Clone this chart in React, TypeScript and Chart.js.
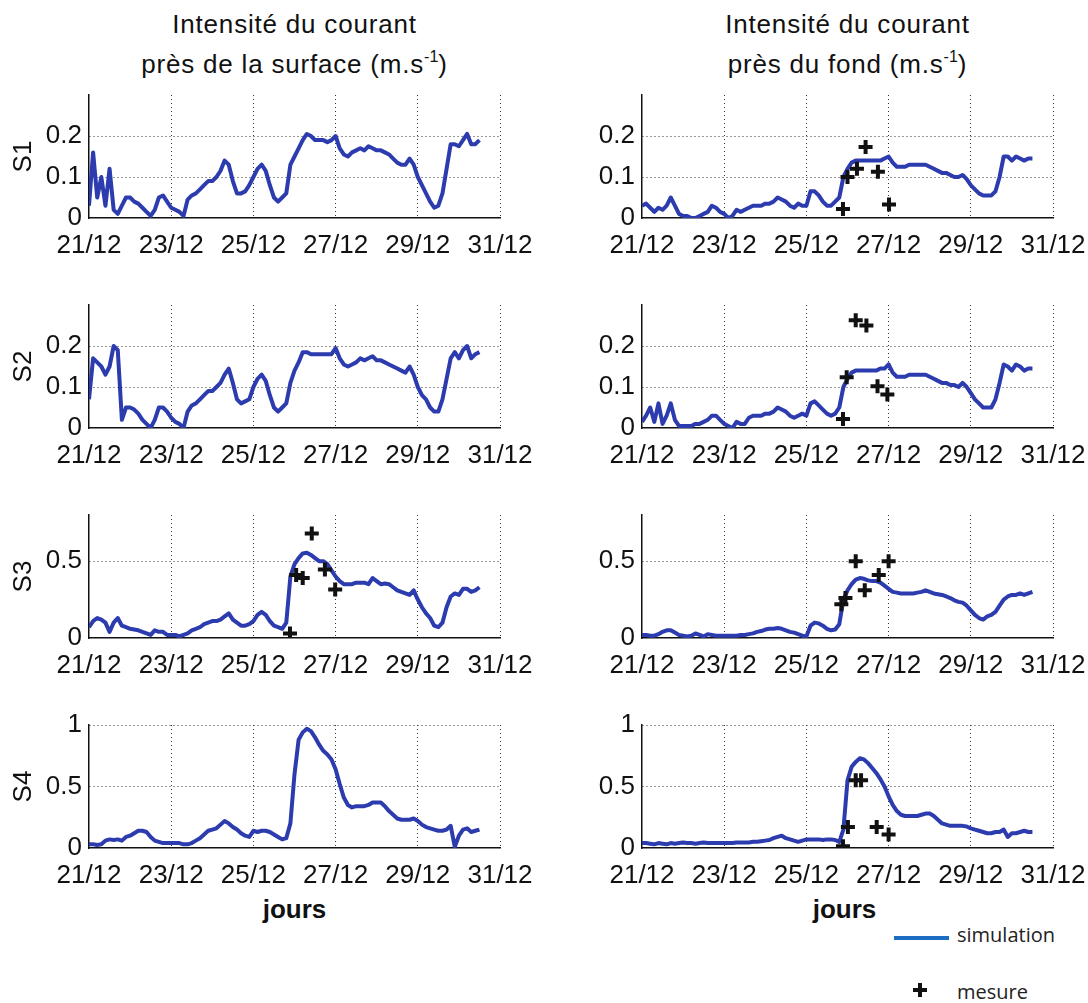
import React, { useEffect, useRef } from 'react';
import { Chart, registerables } from 'chart.js';

Chart.register(...registerables);
Chart.defaults.font.family = '"Liberation Sans", Arial, Helvetica, sans-serif';

// sampling times (days of December), every 0.1 day from 21.0 to 30.5
const TIMES: number[] = Array.from({ length: 96 }, (_, i) => Math.round((21 + i * 0.1) * 10) / 10);
const DAY_TICKS = [21, 23, 25, 27, 29, 31];

// ---- simulated current intensity near the surface (m/s)
const S1_SURF = [
  0.03, 0.16, 0.05, 0.10, 0.03, 0.12, 0.02, 0.01, 0.03, 0.05,
  0.05, 0.04, 0.035, 0.025, 0.015, 0.005, 0.02, 0.05, 0.055, 0.04,
  0.025, 0.02, 0.015, 0.005, 0.045, 0.055, 0.06, 0.07, 0.08, 0.09,
  0.09, 0.10, 0.115, 0.14, 0.13, 0.09, 0.06, 0.06, 0.065, 0.08,
  0.10, 0.12, 0.13, 0.115, 0.08, 0.05, 0.04, 0.05, 0.06, 0.13,
  0.15, 0.17, 0.19, 0.205, 0.20, 0.19, 0.19, 0.19, 0.185, 0.19,
  0.20, 0.17, 0.155, 0.15, 0.16, 0.165, 0.17, 0.165, 0.175, 0.17,
  0.165, 0.165, 0.16, 0.155, 0.145, 0.135, 0.13, 0.13, 0.145, 0.13,
  0.10, 0.08, 0.06, 0.04, 0.025, 0.03, 0.06, 0.12, 0.18, 0.18,
  0.175, 0.19, 0.205, 0.18, 0.18, 0.19,
];
const S2_SURF = [
  0.07, 0.17, 0.16, 0.15, 0.13, 0.15, 0.20, 0.19, 0.02, 0.05,
  0.05, 0.045, 0.035, 0.02, 0.01, 0.0, 0.02, 0.05, 0.05, 0.04,
  0.025, 0.015, 0.01, 0.0, 0.04, 0.055, 0.06, 0.07, 0.08, 0.09,
  0.09, 0.10, 0.11, 0.13, 0.145, 0.11, 0.07, 0.06, 0.065, 0.07,
  0.10, 0.12, 0.13, 0.115, 0.08, 0.05, 0.04, 0.05, 0.06, 0.11,
  0.14, 0.16, 0.185, 0.185, 0.18, 0.18, 0.18, 0.18, 0.18, 0.18,
  0.195, 0.17, 0.155, 0.15, 0.155, 0.16, 0.17, 0.165, 0.17, 0.175,
  0.165, 0.165, 0.16, 0.155, 0.15, 0.145, 0.14, 0.135, 0.15, 0.13,
  0.10, 0.08, 0.07, 0.05, 0.04, 0.04, 0.07, 0.12, 0.17, 0.185,
  0.17, 0.19, 0.20, 0.17, 0.18, 0.185,
];
const S3_SURF = [
  0.07, 0.11, 0.13, 0.12, 0.10, 0.04, 0.10, 0.13, 0.08, 0.07,
  0.06, 0.055, 0.05, 0.04, 0.03, 0.02, 0.05, 0.04, 0.04, 0.02,
  0.02, 0.02, 0.01, 0.02, 0.03, 0.05, 0.06, 0.07, 0.09, 0.10,
  0.11, 0.11, 0.12, 0.14, 0.16, 0.12, 0.10, 0.08, 0.08, 0.09,
  0.11, 0.15, 0.17, 0.15, 0.11, 0.08, 0.07, 0.06, 0.10, 0.40,
  0.48, 0.52, 0.55, 0.555, 0.54, 0.52, 0.50, 0.50, 0.48, 0.44,
  0.40, 0.37, 0.35, 0.35, 0.35, 0.36, 0.36, 0.36, 0.35, 0.39,
  0.37, 0.35, 0.355, 0.35, 0.33, 0.31, 0.30, 0.29, 0.28, 0.31,
  0.25, 0.20, 0.16, 0.13, 0.08, 0.07, 0.10, 0.20, 0.27, 0.29,
  0.28, 0.32, 0.32, 0.30, 0.31, 0.33,
];
const S4_SURF = [
  0.03, 0.03, 0.025, 0.03, 0.06, 0.07, 0.065, 0.07, 0.06, 0.09,
  0.10, 0.12, 0.14, 0.14, 0.13, 0.09, 0.06, 0.05, 0.04, 0.04,
  0.04, 0.04, 0.04, 0.03, 0.03, 0.04, 0.06, 0.08, 0.11, 0.14,
  0.15, 0.16, 0.19, 0.22, 0.20, 0.17, 0.15, 0.12, 0.10, 0.09,
  0.14, 0.13, 0.14, 0.14, 0.13, 0.11, 0.09, 0.07, 0.08, 0.20,
  0.60, 0.88, 0.94, 0.97, 0.95, 0.90, 0.84, 0.79, 0.76, 0.72,
  0.64, 0.52, 0.41, 0.35, 0.33, 0.34, 0.34, 0.34, 0.35, 0.37,
  0.37, 0.37, 0.34, 0.30, 0.27, 0.24, 0.23, 0.23, 0.23, 0.24,
  0.22, 0.19, 0.17, 0.16, 0.15, 0.14, 0.14, 0.15, 0.18, 0.01,
  0.10, 0.15, 0.16, 0.13, 0.14, 0.15,
];

// ---- simulated current intensity near the bottom (m/s)
const S1_BOT = [
  0.03, 0.035, 0.025, 0.015, 0.025, 0.02, 0.03, 0.05, 0.03, 0.01,
  0.005, 0.005, 0.0, 0.0, 0.005, 0.01, 0.015, 0.03, 0.025, 0.015,
  0.01, 0.0, 0.005, 0.02, 0.015, 0.02, 0.025, 0.03, 0.03, 0.03,
  0.035, 0.035, 0.04, 0.05, 0.045, 0.04, 0.03, 0.025, 0.035, 0.03,
  0.03, 0.065, 0.065, 0.055, 0.04, 0.03, 0.03, 0.04, 0.05, 0.10,
  0.12, 0.135, 0.14, 0.14, 0.14, 0.14, 0.14, 0.14, 0.14, 0.145,
  0.15, 0.135, 0.125, 0.125, 0.125, 0.13, 0.13, 0.13, 0.13, 0.13,
  0.125, 0.12, 0.115, 0.11, 0.11, 0.105, 0.10, 0.10, 0.105, 0.095,
  0.08, 0.07, 0.06, 0.055, 0.055, 0.055, 0.065, 0.10, 0.15, 0.15,
  0.14, 0.15, 0.145, 0.14, 0.145, 0.145,
];
const S2_BOT = [
  0.015, 0.03, 0.05, 0.015, 0.06, 0.01, 0.03, 0.06, 0.02, 0.005,
  0.005, 0.005, 0.005, 0.01, 0.01, 0.015, 0.02, 0.03, 0.03, 0.02,
  0.01, 0.005, 0.0, 0.015, 0.01, 0.01, 0.025, 0.03, 0.03, 0.03,
  0.035, 0.035, 0.04, 0.05, 0.045, 0.04, 0.03, 0.025, 0.03, 0.035,
  0.03, 0.06, 0.065, 0.055, 0.045, 0.035, 0.03, 0.035, 0.05, 0.10,
  0.12, 0.135, 0.14, 0.14, 0.14, 0.14, 0.14, 0.14, 0.145, 0.145,
  0.155, 0.135, 0.125, 0.125, 0.125, 0.13, 0.13, 0.13, 0.13, 0.13,
  0.125, 0.12, 0.115, 0.11, 0.11, 0.105, 0.105, 0.10, 0.11, 0.10,
  0.085, 0.07, 0.06, 0.05, 0.05, 0.05, 0.07, 0.11, 0.155, 0.15,
  0.14, 0.155, 0.15, 0.14, 0.145, 0.145,
];
const S3_BOT = [
  0.02, 0.02, 0.015, 0.015, 0.025, 0.04, 0.05, 0.05, 0.035, 0.02,
  0.015, 0.01, 0.015, 0.03, 0.02, 0.01, 0.025, 0.02, 0.015, 0.015,
  0.015, 0.015, 0.015, 0.015, 0.02, 0.02, 0.025, 0.03, 0.04, 0.045,
  0.055, 0.06, 0.06, 0.065, 0.06, 0.05, 0.04, 0.035, 0.025, 0.015,
  0.01, 0.08, 0.10, 0.095, 0.08, 0.06, 0.05, 0.055, 0.09, 0.25,
  0.31, 0.35, 0.38, 0.39, 0.385, 0.375, 0.37, 0.37, 0.36, 0.34,
  0.32, 0.30, 0.295, 0.29, 0.29, 0.29, 0.29, 0.295, 0.30, 0.31,
  0.30, 0.29, 0.285, 0.28, 0.27, 0.26, 0.245, 0.235, 0.23, 0.21,
  0.18, 0.15, 0.13, 0.12, 0.14, 0.15, 0.17, 0.21, 0.25, 0.27,
  0.28, 0.28, 0.29, 0.28, 0.29, 0.30,
];
const S4_BOT = [
  0.04, 0.04, 0.035, 0.03, 0.04, 0.035, 0.03, 0.04, 0.035, 0.04,
  0.045, 0.04, 0.04, 0.035, 0.04, 0.045, 0.04, 0.04, 0.04, 0.04,
  0.04, 0.04, 0.04, 0.045, 0.045, 0.045, 0.045, 0.05, 0.05, 0.055,
  0.06, 0.065, 0.08, 0.09, 0.10, 0.08, 0.07, 0.06, 0.05, 0.06,
  0.07, 0.07, 0.07, 0.07, 0.065, 0.07, 0.07, 0.065, 0.05, 0.15,
  0.55, 0.66, 0.70, 0.73, 0.72, 0.69, 0.65, 0.61, 0.56, 0.50,
  0.42, 0.35, 0.30, 0.27, 0.26, 0.26, 0.26, 0.26, 0.27, 0.28,
  0.28, 0.26, 0.23, 0.20, 0.19, 0.18, 0.18, 0.18, 0.18, 0.175,
  0.16, 0.15, 0.14, 0.13, 0.12, 0.12, 0.13, 0.13, 0.15, 0.09,
  0.12, 0.12, 0.13, 0.14, 0.13, 0.13,
];

// ---- measurements (+)
const S3_SURF_MES_T = [25.89, 26.04, 26.2, 26.42, 26.74, 26.99];
const S3_SURF_MES_V = [0.03, 0.41, 0.39, 0.68, 0.445, 0.315];
const S1_BOT_MES_T = [25.89, 26.0, 26.23, 26.44, 26.74, 27.01];
const S1_BOT_MES_V = [0.022, 0.10, 0.12, 0.173, 0.113, 0.033];
const S2_BOT_MES_T = [25.89, 25.98, 26.2, 26.46, 26.73, 26.97];
const S2_BOT_MES_V = [0.022, 0.124, 0.263, 0.25, 0.102, 0.082];
const S3_BOT_MES_T = [25.85, 25.95, 26.2, 26.42, 26.76, 27.0];
const S3_BOT_MES_V = [0.22, 0.26, 0.5, 0.31, 0.41, 0.5];
const S4_BOT_MES_T = [25.89, 26.01, 26.2, 26.33, 26.71, 27.0];
const S4_BOT_MES_V = [0.015, 0.17, 0.55, 0.55, 0.17, 0.11];

const LINE_COLOR = '#2c3caf';
const TEXT = '#111';
const CANVAS_W = 548;
const PAD_TOP = 24;
const PLOT_H = 123;
const XAXIS_H = 45;
const CANVAS_H = PAD_TOP + PLOT_H + XAXIS_H;

type PanelProps = {
  left: number;
  chartTop: number;
  values: number[];
  mesT?: number[];
  mesV?: number[];
  yMax: number;
  yTicks: number[];
  yTitle?: string;
};

function Panel(p: PanelProps) {
  const ref = useRef<HTMLCanvasElement>(null);
  useEffect(() => {
    const canvas = ref.current;
    if (!canvas) return;
    const datasets: any[] = [];
    if (p.mesT && p.mesV) {
      datasets.push({
        type: 'scatter',
        data: p.mesT.map((t, i) => ({ x: t, y: p.mesV![i] })),
        pointStyle: 'cross',
        pointRadius: 7,
        pointBorderWidth: 4,
        pointBorderColor: '#111',
        pointBackgroundColor: '#111',
        borderColor: '#111',
        showLine: false,
        order: 0,
      });
    }
    datasets.push({
      type: 'line',
      data: TIMES.map((t, i) => ({ x: t, y: p.values[i] })),
      borderColor: LINE_COLOR,
      borderWidth: 4,
      pointRadius: 0,
      tension: 0,
      fill: false,
      borderJoinStyle: 'round',
      order: 1,
    });
    const tickFont = { size: 26 };
    const chart = new Chart(canvas, {
      type: 'line',
      data: { datasets },
      options: {
        responsive: false,
        maintainAspectRatio: false,
        animation: false,
        events: [],
        layout: { padding: { top: PAD_TOP, right: 48, left: 0, bottom: 0 } },
        plugins: { legend: { display: false }, tooltip: { enabled: false } },
        scales: {
          x: {
            type: 'linear',
            min: 21,
            max: 31,
            afterBuildTicks: (s: any) => {
              s.ticks = DAY_TICKS.map((v) => ({ value: v }));
            },
            afterFit: (s: any) => {
              s.height = XAXIS_H;
            },
            ticks: {
              padding: 12,
              maxRotation: 0,
              autoSkip: false,
              color: TEXT,
              font: tickFont,
              callback: (v: any) => `${v}/12`,
            },
            grid: {
              drawTicks: false,
              lineWidth: 1,
              color: (c: any) => (c.tick && c.tick.value === 21 ? 'rgba(0,0,0,0)' : '#333'),
            },
            border: { display: true, color: '#111', width: 1.5, dash: [1, 3] },
          },
          y: {
            type: 'linear',
            min: 0,
            max: p.yMax,
            afterBuildTicks: (s: any) => {
              s.ticks = p.yTicks.map((v) => ({ value: v }));
            },
            afterFit: (s: any) => {
              s.width = 89;
            },
            ticks: {
              padding: 7,
              color: TEXT,
              font: tickFont,
              callback: (v: any) => String(v),
            },
            grid: {
              drawTicks: false,
              lineWidth: 1,
              color: (c: any) => (c.tick && c.tick.value === 0 ? 'rgba(0,0,0,0)' : '#333'),
            },
            border: { display: true, color: '#111', width: 1.5, dash: [1, 3] },
            title: p.yTitle
              ? { display: true, text: p.yTitle, color: TEXT, font: { size: 26 }, padding: { top: 8, bottom: 0 } }
              : { display: false },
          },
        },
      } as any,
    });
    return () => chart.destroy();
  }, []);
  return (
    <canvas
      ref={ref}
      width={CANVAS_W}
      height={CANVAS_H}
      style={{ position: 'absolute', left: p.left, top: p.chartTop - PAD_TOP, width: CANVAS_W, height: CANVAS_H }}
    />
  );
}

const ROW_TOPS = [95, 305, 515, 725];
const LEFT_X = 0;
const RIGHT_X = 553;
const LEFT_CENTER = 294.5;
const RIGHT_CENTER = 847.5;

export default function App() {
  const titleStyle: React.CSSProperties = {
    position: 'absolute',
    transform: 'translateX(-50%)',
    whiteSpace: 'nowrap',
    fontSize: 26,
    letterSpacing: '0.8px',
    lineHeight: '30px',
    color: TEXT,
  };
  const sup: React.CSSProperties = { fontSize: 16, position: 'relative', top: -11, letterSpacing: 0 };
  const legendText: React.CSSProperties = {
    position: 'absolute',
    left: 957,
    fontFamily: '"Open Sans", "Noto Sans", sans-serif',
    fontSize: 20,
    lineHeight: '20px',
    color: '#222',
    whiteSpace: 'nowrap',
  };
  return (
    <div
      style={{
        position: 'absolute',
        left: 0,
        top: 0,
        width: 1088,
        height: 1003,
        background: '#fff',
        overflow: 'hidden',
        fontFamily: '"Liberation Sans", Arial, Helvetica, sans-serif',
      }}
    >
      <div style={{ ...titleStyle, left: LEFT_CENTER, top: 9 }}>Intensité du courant</div>
      <div style={{ ...titleStyle, left: LEFT_CENTER, top: 49 }}>
        près de la surface (m.s<span style={sup}>-1</span>)
      </div>
      <div style={{ ...titleStyle, left: RIGHT_CENTER, top: 9 }}>Intensité du courant</div>
      <div style={{ ...titleStyle, left: RIGHT_CENTER, top: 49 }}>
        près du fond (m.s<span style={sup}>-1</span>)
      </div>

      <Panel left={LEFT_X} chartTop={ROW_TOPS[0]} values={S1_SURF} yMax={0.3} yTicks={[0, 0.1, 0.2]} yTitle="S1" />
      <Panel left={LEFT_X} chartTop={ROW_TOPS[1]} values={S2_SURF} yMax={0.3} yTicks={[0, 0.1, 0.2]} yTitle="S2" />
      <Panel left={LEFT_X} chartTop={ROW_TOPS[2]} values={S3_SURF} mesT={S3_SURF_MES_T} mesV={S3_SURF_MES_V} yMax={0.8} yTicks={[0, 0.5]} yTitle="S3" />
      <Panel left={LEFT_X} chartTop={ROW_TOPS[3]} values={S4_SURF} yMax={1} yTicks={[0, 0.5, 1]} yTitle="S4" />

      <Panel left={RIGHT_X} chartTop={ROW_TOPS[0]} values={S1_BOT} mesT={S1_BOT_MES_T} mesV={S1_BOT_MES_V} yMax={0.3} yTicks={[0, 0.1, 0.2]} />
      <Panel left={RIGHT_X} chartTop={ROW_TOPS[1]} values={S2_BOT} mesT={S2_BOT_MES_T} mesV={S2_BOT_MES_V} yMax={0.3} yTicks={[0, 0.1, 0.2]} />
      <Panel left={RIGHT_X} chartTop={ROW_TOPS[2]} values={S3_BOT} mesT={S3_BOT_MES_T} mesV={S3_BOT_MES_V} yMax={0.8} yTicks={[0, 0.5]} />
      <Panel left={RIGHT_X} chartTop={ROW_TOPS[3]} values={S4_BOT} mesT={S4_BOT_MES_T} mesV={S4_BOT_MES_V} yMax={1} yTicks={[0, 0.5, 1]} />

      <div style={{ ...titleStyle, letterSpacing: 0, left: LEFT_CENTER, top: 894, fontWeight: 'bold' }}>jours</div>
      <div style={{ ...titleStyle, letterSpacing: 0, left: RIGHT_CENTER - 3, top: 894, fontWeight: 'bold' }}>jours</div>

      {/* legend */}
      <div style={{ position: 'absolute', left: 894, top: 936, width: 55, height: 4, background: '#1b6ec2' }} />
      <div style={{ ...legendText, top: 925 }}>simulation</div>
      <div style={{ position: 'absolute', left: 913, top: 988, width: 14, height: 4, background: '#111' }} />
      <div style={{ position: 'absolute', left: 918, top: 983, width: 4, height: 14, background: '#111' }} />
      <div style={{ ...legendText, top: 982 }}>mesure</div>
    </div>
  );
}
